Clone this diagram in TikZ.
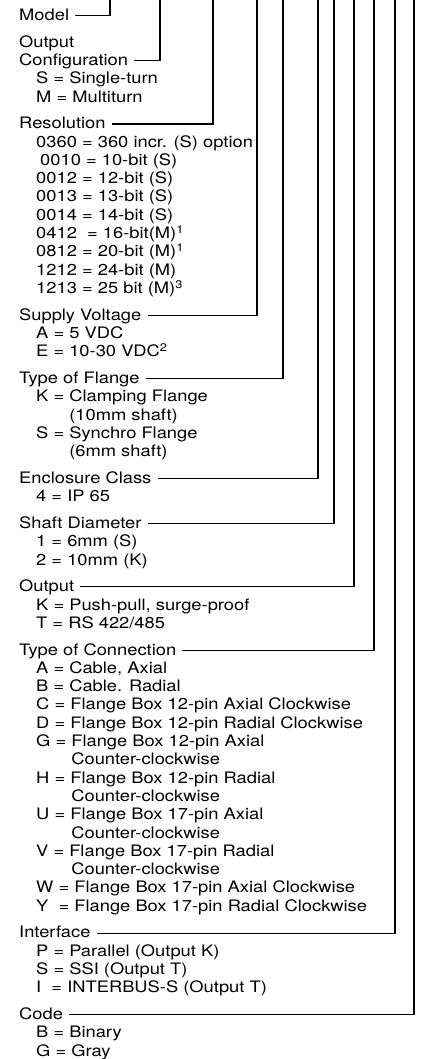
\documentclass[tikz,border=0pt]{standalone}
\usepackage{fontspec}
\usepackage{xcolor}
\usepackage{tikz}
\newfontfamily\keyfont{TeX Gyre Heros}[FakeStretch=1.16]

\begin{document}
\begin{tikzpicture}[x=1pt,y=1pt,font=\keyfont\fontsize{15.8}{18}\selectfont,
  hdr/.style={anchor=base west,inner sep=0pt,text height=9.6pt,text depth=0pt},
  item/.style={anchor=base west,inner sep=0pt},
  lead/.style={line width=1.1pt,shorten <=6pt}]
\useasboundingbox (0,0) rectangle (425,-1059);
\coordinate (mdlTop) at (110,0);
\coordinate (cfgTop) at (160,0);
\coordinate (resTop) at (213,0);
\coordinate (supTop) at (257,0);
\coordinate (flgTop) at (283,0);
\coordinate (encTop) at (318,0);
\coordinate (shfTop) at (334,0);
\coordinate (outTop) at (354,0);
\coordinate (conTop) at (374,0);
\coordinate (ifcTop) at (395,0);
\coordinate (codTop) at (414,0);

\node[hdr] (mdl) at (19,-20.5) {Model};

\node[item] (cfg0) at (19,-47.2) {Output};
\node[hdr] (cfg) at (19,-65.5) {Configuration};
\foreach \t [count=\i] in {S = Single-turn, M = Multiturn}
  \node[item] (cfg\i) at (36,{-65.5-\i*18.3}) {\t};

\node[hdr] (res) at (19,-128.8) {Resolution};
\foreach \t [count=\i] in {0360 = 360 incr. (S) option, {\hspace*{4pt}0010 = 10-bit (S)},
    0012 = 12-bit (S), 0013 = 13-bit (S), 0014 = 14-bit (S),
    {0412\ \ = 16-bit(M)\textsuperscript{1}}, {0812 = 20-bit (M)\textsuperscript{1}},
    1212 = 24-bit (M), {1213 = 25 bit (M)\textsuperscript{3}}}
  \node[item] (res\i) at (36,{-128.8-\i*18.3}) {\t};

\node[hdr] (sup) at (19,-320.2) {Supply Voltage};
\foreach \t [count=\i] in {A = 5 VDC, {E = 10-30 VDC\textsuperscript{2}}}
  \node[item] (sup\i) at (36,{-320.2-\i*18.3}) {\t};

\node[hdr] (flg) at (19,-383.5) {Type of Flange};
\foreach \t [count=\i] in {K = Clamping Flange, {\phantom{K = }(10mm shaft)},
    S = Synchro Flange, {\phantom{S = }(6mm shaft)}}
  \node[item] (flg\i) at (36,{-383.5-\i*18.3}) {\t};

\node[hdr] (enc) at (19,-483.4) {Enclosure Class};
\node[item] (enc1) at (36,-501.7) {4 = IP 65};

\node[hdr] (shf) at (19,-528.4) {Shaft Diameter};
\foreach \t [count=\i] in {1 = 6mm (S), 2 = 10mm (K)}
  \node[item] (shf\i) at (36,{-528.4-\i*18.3}) {\t};

\node[hdr] (out) at (19,-591.7) {Output};
\foreach \t [count=\i] in {{K = Push-pull, surge-proof}, {T = RS 422/485}}
  \node[item] (out\i) at (36,{-591.7-\i*18.3}) {\t};

\node[hdr] (con) at (19,-655) {Type of Connection};
\foreach \t [count=\i] in {{A = Cable, Axial}, B = Cable. Radial,
    C = Flange Box 12-pin Axial Clockwise, D = Flange Box 12-pin Radial Clockwise,
    G = Flange Box 12-pin Axial, {\phantom{G = }Counter-clockwise},
    H = Flange Box 12-pin Radial, {\phantom{G = }Counter-clockwise},
    U = Flange Box 17-pin Axial, {\phantom{G = }Counter-clockwise},
    V = Flange Box 17-pin Radial, {\phantom{G = }Counter-clockwise},
    W = Flange Box 17-pin Axial Clockwise, {Y\ \ = Flange Box 17-pin Radial Clockwise}}
  \node[item] (con\i) at (36,{-655-\i*18.3}) {\t};

\node[hdr] (ifc) at (19,-937.9) {Interface};
\foreach \t [count=\i] in {P = Parallel (Output K), S = SSI (Output T),
    {I\ \ = INTERBUS-S (Output T)}}
  \node[item] (ifc\i) at (36,{-937.9-\i*18.3}) {\t};

\node[hdr] (cod) at (19,-1019.5) {Code};
\foreach \t [count=\i] in {B = Binary, G = Gray}
  \node[item] (cod\i) at (36,{-1019.5-\i*18.3}) {\t};

\draw[lead] (mdl.east) -| (mdlTop);
\draw[lead] (cfg.east) -| (cfgTop);
\draw[lead] (res.east) -| (resTop);
\draw[lead] (sup.east) -| (supTop);
\draw[lead] (flg.east) -| (flgTop);
\draw[lead] (enc.east) -| (encTop);
\draw[lead] (shf.east) -| (shfTop);
\draw[lead] (out.east) -| (outTop);
\draw[lead] (con.east) -| (conTop);
\draw[lead] (ifc.east) -| (ifcTop);
\draw[lead] (cod.east) -| (codTop);
\end{tikzpicture}
\end{document}
